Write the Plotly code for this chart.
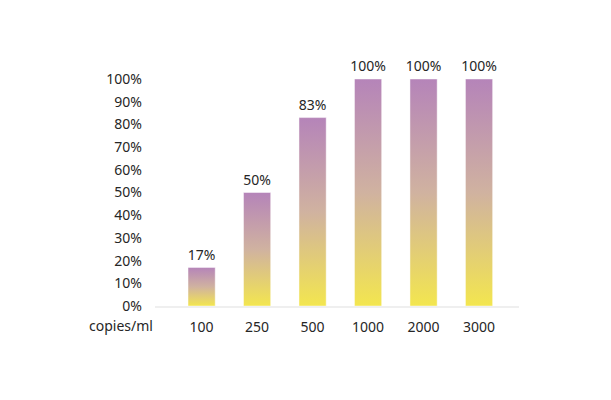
import plotly.graph_objects as go

# chart data
categories = ["100", "250", "500", "1000", "2000", "3000"]
detection = [17, 50, 83, 100, 100, 100]
y_ticks = list(range(0, 101, 10))

PURPLE = "#b584b9"
MID = "#d0b2a0"
YELLOW = "#f3e64f"
TEXT = "#262626"
FONT = "Noto Sans"

fig = go.Figure()

# bars as filled shapes so each one gets its own vertical gradient
half = 0.245
for i, v in enumerate(detection):
    fig.add_trace(go.Scatter(
        x=[i - half, i + half, i + half, i - half, i - half],
        y=[0, 0, v, v, 0],
        mode='lines',
        fill='toself',
        fillgradient=dict(
            type='vertical',
            colorscale=[[0, YELLOW], [0.5, MID], [1, PURPLE]]
        ),
        line=dict(color='rgba(255,255,255,0.45)', width=1),
        hoverinfo='skip',
        showlegend=False
    ))

# value labels above the bars (invisible marker pushes text up a little)
fig.add_trace(go.Scatter(
    x=list(range(len(categories))),
    y=detection,
    mode='markers+text',
    marker=dict(size=5, color='rgba(0,0,0,0)'),
    text=[f"{v}%" for v in detection],
    textposition='top center',
    textfont=dict(family=FONT, size=14, color=TEXT),
    cliponaxis=False,
    hoverinfo='skip',
    showlegend=False
))

# page body adds an 8px offset, so margins are trimmed to match
fig.update_layout(
    width=611,
    height=400,
    margin=dict(l=147, r=100, t=71, b=102),
    plot_bgcolor='white',
    paper_bgcolor='white',
    font=dict(family=FONT, size=14, color=TEXT),
    xaxis=dict(
        range=[-0.84, 5.72],
        tickmode='array',
        tickvals=list(range(len(categories))),
        ticktext=categories,
        showgrid=False,
        zeroline=False,
        showline=True,
        linecolor='#efefef',
        linewidth=2,
        ticks='',
        ticklabelstandoff=7,
        fixedrange=True
    ),
    yaxis=dict(
        range=[0, 100],
        tickmode='array',
        tickvals=y_ticks,
        ticktext=[f"{t}%" for t in y_ticks],
        showgrid=False,
        zeroline=False,
        showline=False,
        ticks='',
        ticklabelstandoff=12,
        fixedrange=True
    ),
    annotations=[dict(
        text="copies/ml",
        xref='paper', yref='paper',
        x=0, y=0,
        xanchor='right', yanchor='top',
        yshift=-8,
        showarrow=False,
        font=dict(family=FONT, size=14, color=TEXT)
    )]
)

fig.write_html("out.html")
